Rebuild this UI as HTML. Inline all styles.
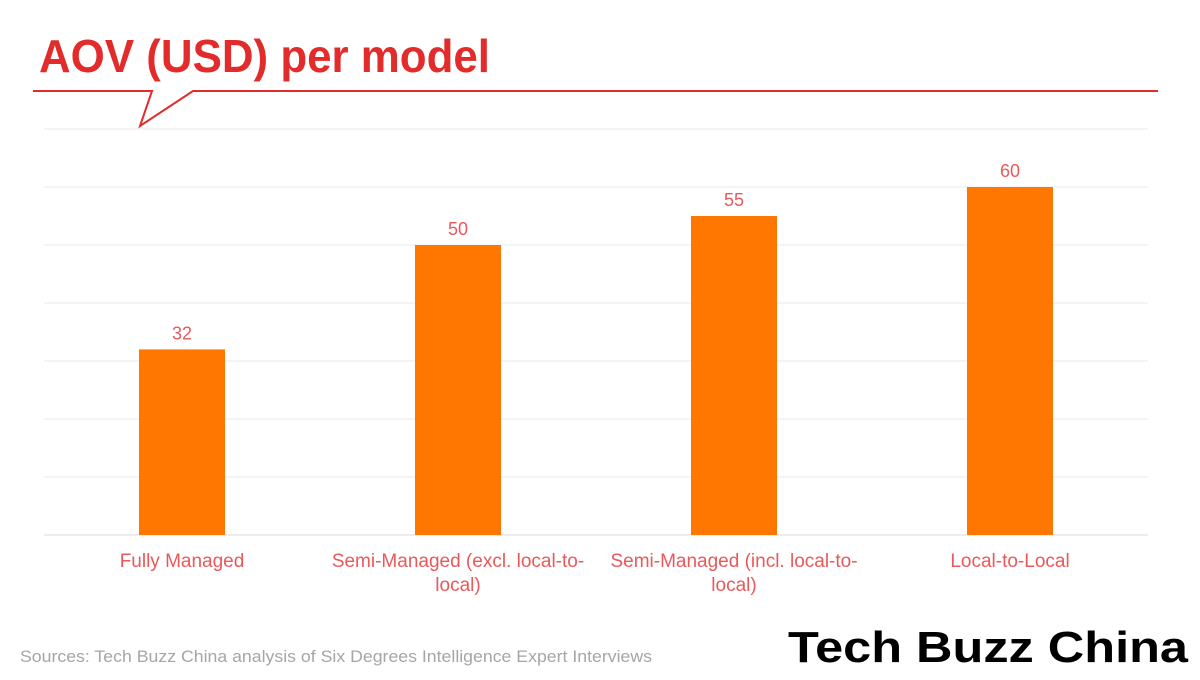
<!DOCTYPE html>
<html><head><meta charset="utf-8"><style>
body{margin:0;width:1200px;height:675px;background:#fff;overflow:hidden;font-family:"Liberation Sans","DejaVu Sans",sans-serif}
</style></head><body>
<svg width="1200" height="675" viewBox="0 0 1200 675">
<text x="39" y="72" font-size="46" font-weight="bold" fill="#e22b2b" textLength="451" lengthAdjust="spacingAndGlyphs">AOV (USD) per model</text>
<polyline points="33,91 152,91 140,126 193,91 1158,91" fill="none" stroke="#e22b2b" stroke-width="2"/>
<g id="grid"></g><g id="bars"></g><g id="labels"></g>
<text x="20" y="662" font-size="17" fill="#a6a6a6" textLength="632" lengthAdjust="spacingAndGlyphs">Sources: Tech Buzz China analysis of Six Degrees Intelligence Expert Interviews</text>
<g font-weight="bold" font-size="44" fill="#000">
<text x="788" y="662" textLength="400" lengthAdjust="spacingAndGlyphs">Tech Buzz China</text>
</g>
</svg>
<script>
const categories=[["Fully Managed"],["Semi-Managed (excl. local-to-","local)"],["Semi-Managed (incl. local-to-","local)"],["Local-to-Local"]];
const values=[32,50,55,60];
const gridTicks=[0,10,20,30,40,50,60,70];
const ns="http://www.w3.org/2000/svg";
const x0=44,x1=1148,y0=535,yScale=58/10;
const y=v=>y0-v*yScale;
const band=(x1-x0)/categories.length;
const xc=i=>x0+band*(i+0.5);
const bw=86;
function mk(t,a,p){const e=document.createElementNS(ns,t);for(const k in a)e.setAttribute(k,a[k]);p.appendChild(e);return e;}
const G=document.getElementById('grid'),B=document.getElementById('bars'),L=document.getElementById('labels');
gridTicks.forEach(t=>{const l=mk('line',{x1:x0,x2:x1,y1:y(t),y2:y(t),stroke:t===0?'#d9d9d9':'#e8e8e8','stroke-width':1},G);

});
values.forEach((v,i)=>{
const r=mk('rect',{x:xc(i)-bw/2,y:y(v),width:bw,height:y0-y(v),fill:'#ff7700'},B);


const t=mk('text',{x:xc(i),y:y(v)-10,'text-anchor':'middle','font-size':18,fill:'#e9595a'},L);t.textContent=v;


categories[i].forEach((s,j)=>{const c=mk('text',{x:xc(i),y:567+j*24,'text-anchor':'middle','font-size':19,fill:'#e9595a'},L);c.textContent=s;

});
});
</script>
</body></html>
